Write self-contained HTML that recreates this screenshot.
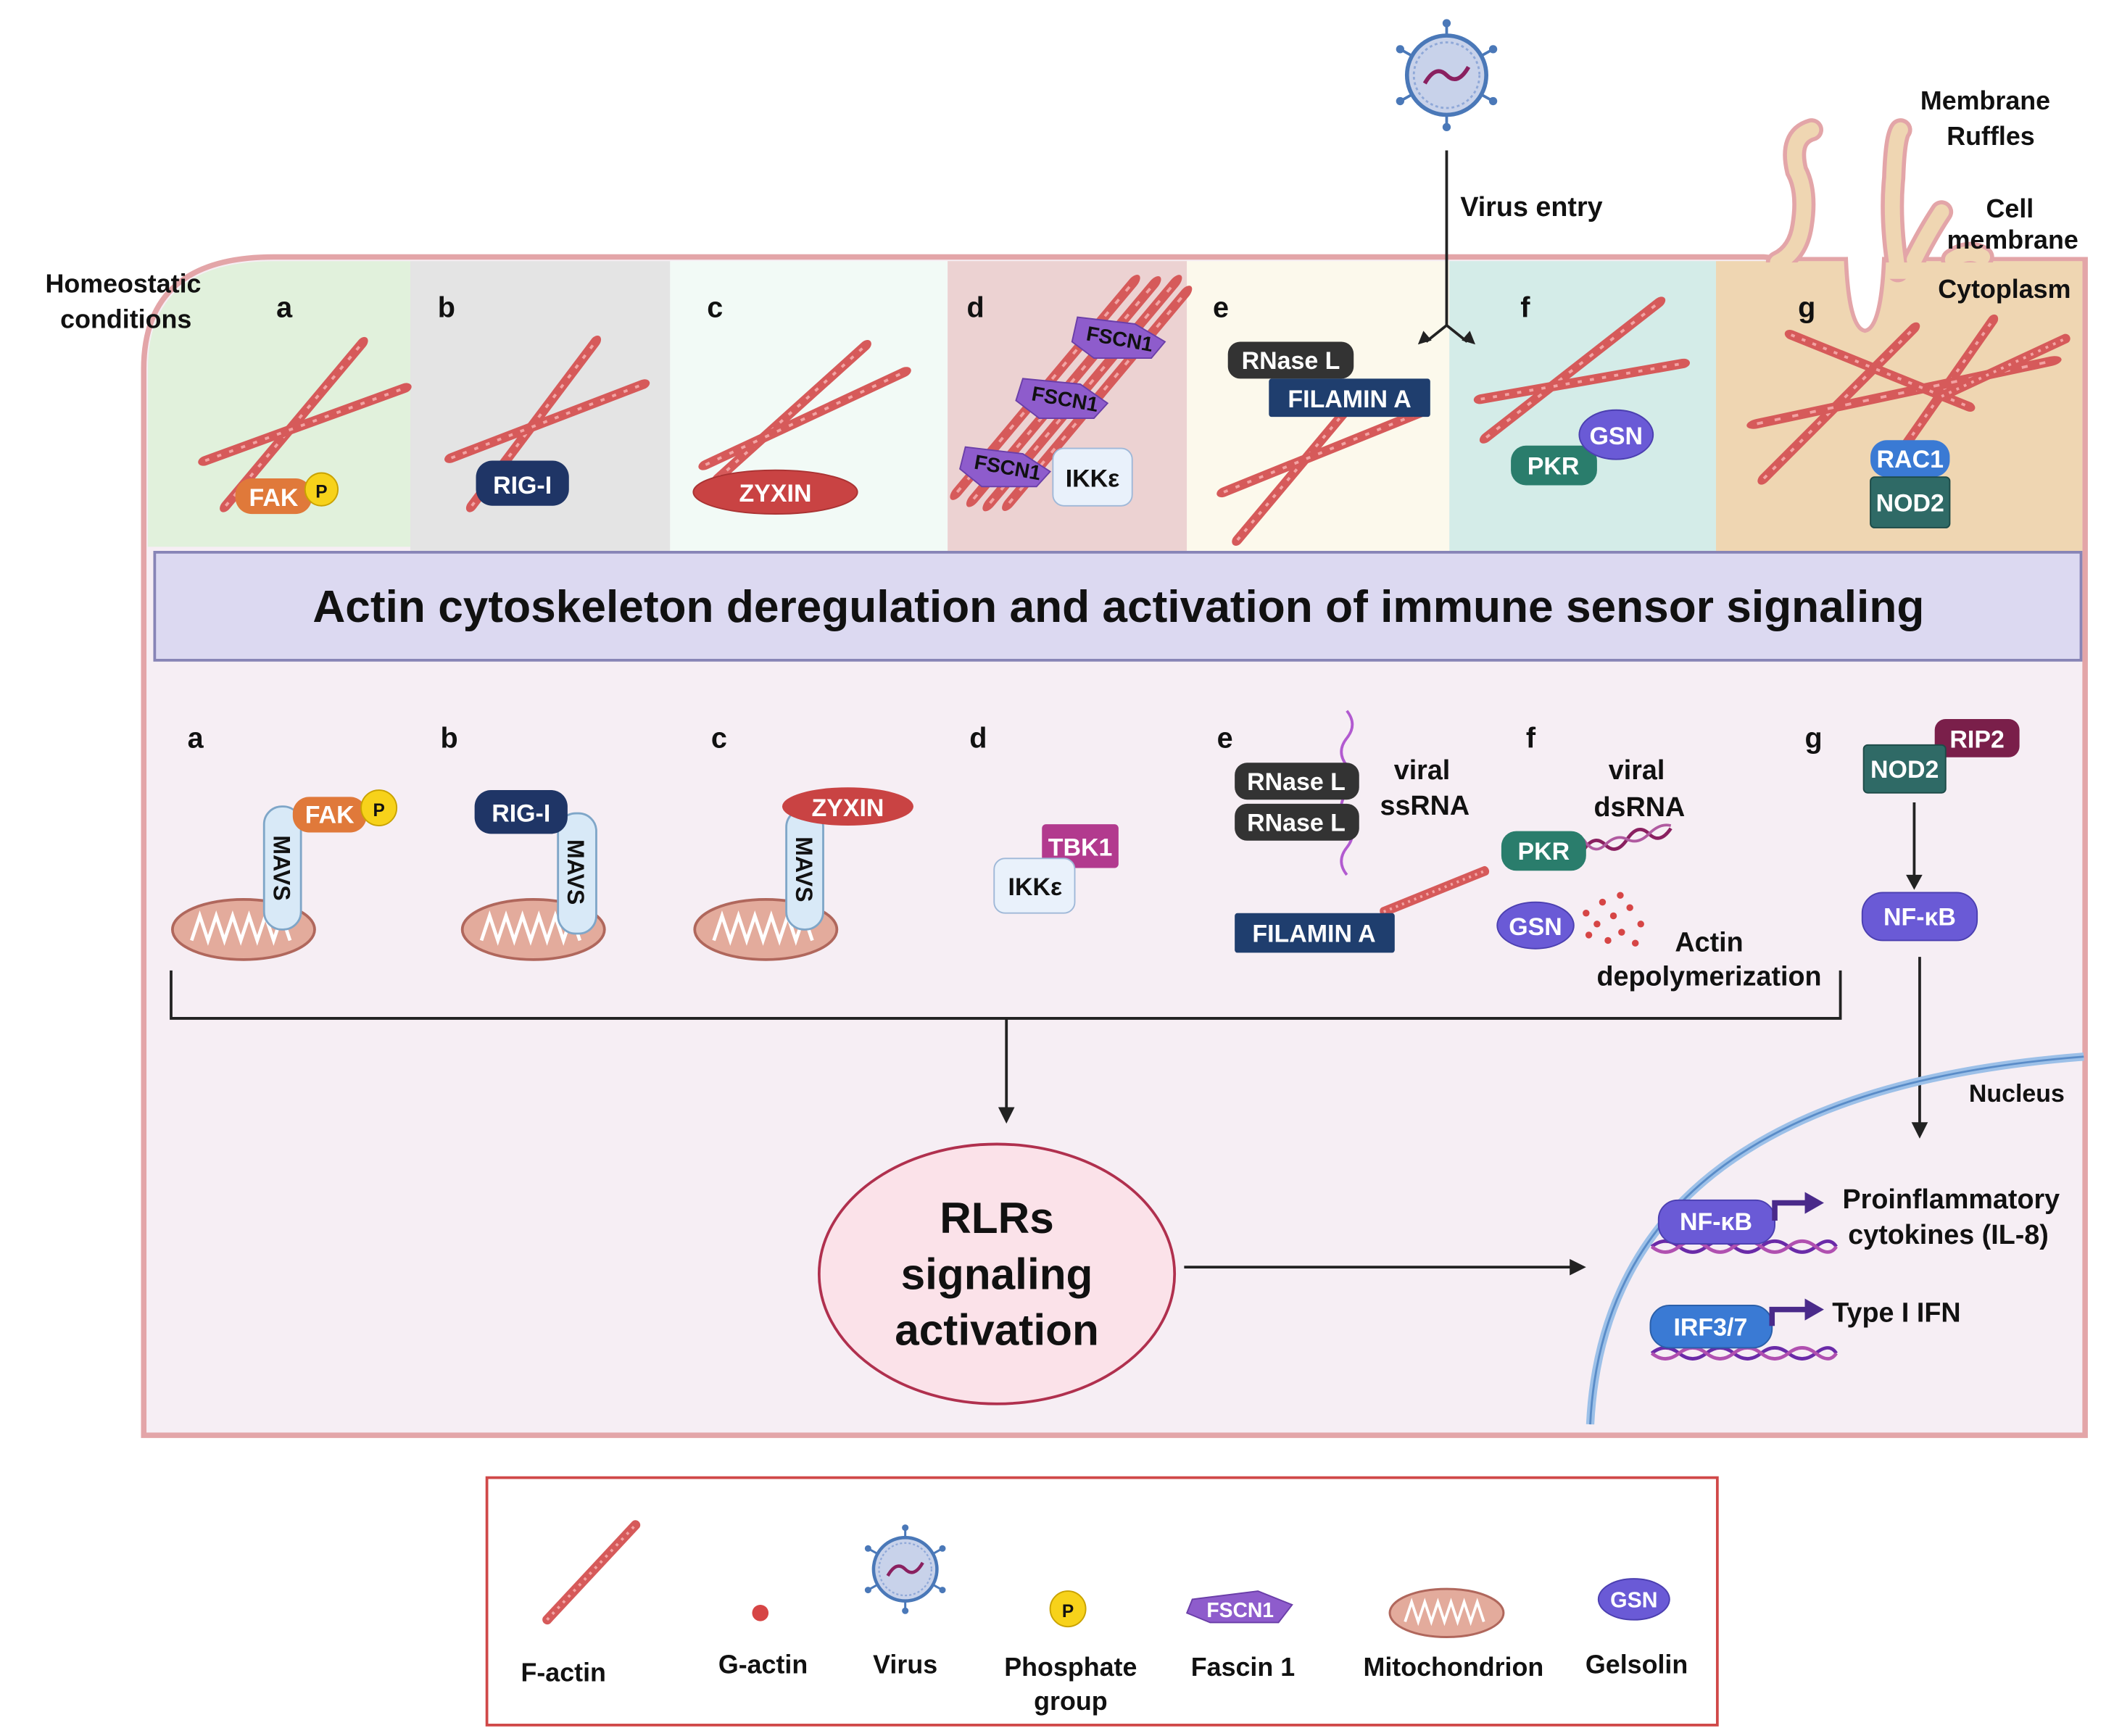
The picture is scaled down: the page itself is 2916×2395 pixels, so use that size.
<!DOCTYPE html>
<html><head><meta charset="utf-8"><style>
html,body{margin:0;padding:0;background:#fff}
svg{display:block}
text{font-family:"Liberation Sans",sans-serif;font-weight:bold;fill:#111}
.fa{stroke:#d65a5a;stroke-width:7;stroke-linecap:round;fill:none}
.fb{stroke:#f2a3a3;stroke-width:2;stroke-dasharray:2 4;fill:none}
.w{fill:#fff}
.to{fill:none;stroke:#e3a5a8;stroke-width:17;stroke-linecap:round}
.ti{fill:none;stroke:#efd6b2;stroke-width:11;stroke-linecap:round}
</style></head><body>
<svg width="2916" height="2395" viewBox="0 0 1546 1270" xmlns="http://www.w3.org/2000/svg">
<defs>
<g id="fil"><line class="fa" x1="0" y1="0" x2="100" y2="0"/><line class="fb" x1="0" y1="0" x2="100" y2="0"/></g>
<g id="mito"><ellipse cx="0" cy="0" rx="52" ry="22" fill="#e3ab9c" stroke="#b0675c" stroke-width="2"/><path d="M-38,8 l6,-18 l6,18 l6,-18 l6,18 l6,-18 l6,18 l6,-18 l6,18 l6,-18 l6,18 l6,-18 l6,18" fill="none" stroke="#fff" stroke-width="2.5"/></g>
<g id="virus"><g stroke="#4a78b8" stroke-width="2"><line x1="0" y1="-38" x2="0" y2="38"/><line x1="-34" y1="-19" x2="34" y2="19"/><line x1="-34" y1="19" x2="34" y2="-19"/></g><g fill="#4a78b8"><circle cx="0" cy="-38" r="3"/><circle cx="0" cy="38" r="3"/><circle cx="-34" cy="-19" r="3"/><circle cx="34" cy="19" r="3"/><circle cx="-34" cy="19" r="3"/><circle cx="34" cy="-19" r="3"/></g><circle r="29" fill="#c8d2ea" stroke="#4a78b8" stroke-width="3"/><circle r="24" fill="none" stroke="#8fa8d8" stroke-width="1.5" stroke-dasharray="2 2"/><path d="M-16,6 q8,-14 16,-6 t16,-6" stroke="#8a2060" stroke-width="3" fill="none"/></g>
</defs>
<!-- cell body -->
<path d="M105,1050 L105,270 Q105,188 200,188 L1290,188 L1310,190 L1525,190 L1525,1050 Z" fill="#f6eef4" stroke="#e3a5a8" stroke-width="4"/>
<!-- panels -->
<path d="M108,400 L108,270 Q108,191 200,191 L300,191 L300,400Z" fill="#e1f1dc"/>
<rect x="300" y="191" width="190" height="212" fill="#e4e4e4"/>
<rect x="490" y="191" width="203" height="212" fill="#f2faf6"/>
<rect x="693" y="191" width="175" height="212" fill="#ecd2d2"/>
<rect x="868" y="191" width="192" height="212" fill="#fcf9ec"/>
<rect x="1060" y="191" width="195" height="212" fill="#d4ece8"/>
<rect x="1255" y="191" width="268" height="212" fill="#efd6b2"/>
<!-- ruffles -->
<path class="to" d="M1300,192 Q1315,185 1318,165 Q1322,140 1314,125 Q1308,100 1325,95"/>
<path class="to" d="M1388,198 Q1382,160 1385,130 Q1386,100 1390,95"/>
<path class="to" d="M1400,190 Q1410,170 1420,155"/>
<path class="to" d="M1428,190 Q1440,182 1450,188"/>
<path class="ti" d="M1300,192 Q1315,185 1318,165 Q1322,140 1314,125 Q1308,100 1325,95"/>
<path class="ti" d="M1388,198 Q1382,160 1385,130 Q1386,100 1390,95"/>
<path class="ti" d="M1400,190 Q1410,170 1420,155"/>
<path class="ti" d="M1428,190 Q1440,182 1450,188"/>
<rect x="1290" y="192" width="233" height="12" fill="#efd6b2"/>
<path d="M1350,188 Q1352,240 1364,242 Q1376,240 1378,188" fill="#fff" stroke="#e3a5a8" stroke-width="3"/>
<!-- panel labels -->
<g font-size="21"><text x="202" y="232">a</text><text x="320" y="232">b</text><text x="517" y="232">c</text><text x="707" y="232">d</text><text x="887" y="232">e</text><text x="1112" y="232">f</text><text x="1315" y="232">g</text></g>
<g font-size="19" text-anchor="middle"><text x="90" y="214">Homeostatic</text><text x="92" y="240">conditions</text>
<text x="1452" y="80">Membrane</text><text x="1456" y="106">Ruffles</text><text x="1470" y="159">Cell</text><text x="1472" y="182">membrane</text><text x="1466" y="218">Cytoplasm</text></g>
<!-- virus -->
<use href="#virus" x="1058" y="55"/>
<line x1="1058" y1="110" x2="1058" y2="238" stroke="#222" stroke-width="2"/>
<path d="M1058,238 L1043,250 M1058,238 L1073,250" stroke="#222" stroke-width="2" fill="none"/>
<path d="M1037,252 l4,-10 l6,7z M1079,252 l-4,-10 l-6,7z" fill="#222"/>
<text x="1068" y="158" font-size="20">Virus entry</text>
<!-- a -->
<use href="#fil" transform="translate(165,370) rotate(-50) scale(1.55,1)"/>
<use href="#fil" transform="translate(150,337) rotate(-20) scale(1.55,1)"/>
<rect x="172" y="350" width="56" height="26" rx="12" fill="#e0793a"/><text x="200" y="370" font-size="18" class="w" text-anchor="middle">FAK</text>
<circle cx="235" cy="358" r="12" fill="#f7d21a" stroke="#c9a200"/><text x="235" y="364" font-size="13" text-anchor="middle">P</text>
<!-- b -->
<use href="#fil" transform="translate(345,370) rotate(-53) scale(1.5,1)"/>
<use href="#fil" transform="translate(330,335) rotate(-21) scale(1.5,1)"/>
<rect x="348" y="337" width="68" height="33" rx="12" fill="#1f3566"/><text x="382" y="361" font-size="18" class="w" text-anchor="middle">RIG-I</text>
<!-- c -->
<use href="#fil" transform="translate(525,350) rotate(-42) scale(1.45,1)"/>
<use href="#fil" transform="translate(516,340) rotate(-25) scale(1.6,1)"/>
<ellipse cx="567" cy="360" rx="60" ry="16" fill="#c94343" stroke="#a33"/><text x="567" y="367" font-size="18" class="w" text-anchor="middle">ZYXIN</text>
<!-- d -->
<use href="#fil" transform="translate(700,360) rotate(-50) scale(2,1)"/>
<use href="#fil" transform="translate(712,365) rotate(-50) scale(2.05,1)"/>
<use href="#fil" transform="translate(724,368) rotate(-50) scale(2.1,1)"/>
<use href="#fil" transform="translate(738,368) rotate(-50) scale(2,1)"/>
<g fill="#8e5ccc" stroke="#6a3ea8"><polygon points="788,232 830,237 852,250 842,262 800,262 784,250"/><polygon points="748,277 790,281 810,295 800,306 760,306 743,293"/><polygon points="706,327 748,332 768,345 758,356 718,356 702,343"/></g>
<g font-size="15" class="w" text-anchor="middle"><text x="818" y="253" transform="rotate(10 818 253)">FSCN1</text><text x="778" y="297" transform="rotate(10 778 297)">FSCN1</text><text x="736" y="347" transform="rotate(10 736 347)">FSCN1</text></g>
<rect x="770" y="328" width="58" height="42" rx="8" fill="#e9f1fb" stroke="#9fb8d8"/><text x="799" y="356" font-size="18" text-anchor="middle">IKKε</text>
<!-- e -->
<use href="#fil" transform="translate(905,395) rotate(-50) scale(1.35,1)"/>
<use href="#fil" transform="translate(895,360) rotate(-22) scale(1.55,1)"/>
<rect x="898" y="250" width="92" height="27" rx="9" fill="#333"/><text x="944" y="270" font-size="18" class="w" text-anchor="middle">RNase L</text>
<rect x="928" y="277" width="118" height="28" rx="2" fill="#1f3e6e"/><text x="987" y="298" font-size="18" class="w" text-anchor="middle">FILAMIN A</text>
<!-- f -->
<use href="#fil" transform="translate(1087,320) rotate(-38) scale(1.6,1)"/>
<use href="#fil" transform="translate(1083,292) rotate(-10) scale(1.5,1)"/>
<rect x="1105" y="326" width="63" height="29" rx="11" fill="#2a7d6c"/><text x="1136" y="347" font-size="18" class="w" text-anchor="middle">PKR</text>
<ellipse cx="1182" cy="318" rx="27" ry="18" fill="#6a5ad6" stroke="#4b3fb0"/><text x="1182" y="325" font-size="18" class="w" text-anchor="middle">GSN</text>
<!-- g -->
<use href="#fil" transform="translate(1290,350) rotate(-45) scale(1.55,1)"/>
<use href="#fil" transform="translate(1380,345) rotate(-55) scale(1.35,1)"/>
<use href="#fil" transform="translate(1285,310) rotate(-12) scale(2.2,1)"/>
<use href="#fil" transform="translate(1310,245) rotate(22) scale(1.4,1)"/>
<use href="#fil" transform="translate(1420,290) rotate(-25) scale(1,1)"/>
<rect x="1368" y="322" width="58" height="27" rx="12" fill="#3a7ad4"/><text x="1397" y="342" font-size="18" class="w" text-anchor="middle">RAC1</text>
<rect x="1368" y="349" width="58" height="37" rx="3" fill="#2f6a66" stroke="#1d4a47"/><text x="1397" y="374" font-size="18" class="w" text-anchor="middle">NOD2</text>
<!-- banner -->
<rect x="113" y="404" width="1409" height="79" fill="#dcd9f1" stroke="#8784b6" stroke-width="2"/>
<text x="818" y="455" font-size="33" text-anchor="middle">Actin cytoskeleton deregulation and activation of immune sensor signaling</text>
<!-- lower labels -->
<g font-size="21"><text x="137" y="547">a</text><text x="322" y="547">b</text><text x="520" y="547">c</text><text x="709" y="547">d</text><text x="890" y="547">e</text><text x="1116" y="547">f</text><text x="1320" y="547">g</text></g>
<!-- mitos -->
<use href="#mito" x="178" y="680"/><use href="#mito" x="390" y="680"/><use href="#mito" x="560" y="680"/>
<g fill="#d8e9f7" stroke="#7fa6c8" stroke-width="1.5"><rect x="193" y="590" width="27" height="90" rx="13"/><rect x="408" y="595" width="28" height="88" rx="13"/><rect x="575" y="592" width="27" height="88" rx="13"/></g>
<g font-size="17" text-anchor="middle"><text transform="translate(200,635) rotate(90)">MAVS</text><text transform="translate(415,638) rotate(90)">MAVS</text><text transform="translate(582,636) rotate(90)">MAVS</text></g>
<rect x="214" y="583" width="54" height="26" rx="12" fill="#e0793a"/><text x="241" y="602" font-size="18" class="w" text-anchor="middle">FAK</text>
<circle cx="277" cy="591" r="13" fill="#f7d21a" stroke="#c9a200"/><text x="277" y="597" font-size="13" text-anchor="middle">P</text>
<rect x="347" y="578" width="68" height="32" rx="12" fill="#1f3566"/><text x="381" y="601" font-size="18" class="w" text-anchor="middle">RIG-I</text>
<ellipse cx="620" cy="590" rx="48" ry="14" fill="#c94343"/><text x="620" y="597" font-size="18" class="w" text-anchor="middle">ZYXIN</text>
<rect x="762" y="603" width="56" height="32" rx="3" fill="#b23a8e"/><text x="790" y="626" font-size="18" class="w" text-anchor="middle">TBK1</text>
<rect x="727" y="628" width="59" height="40" rx="8" fill="#e9f1fb" stroke="#9fb8d8"/><text x="757" y="655" font-size="18" text-anchor="middle">IKKε</text>
<!-- e lower -->
<path d="M985,520 q8,10 0,20 t0,20 t0,20 t0,20 t0,20 t0,20" fill="none" stroke="#b25ad0" stroke-width="2"/>
<rect x="903" y="558" width="91" height="27" rx="9" fill="#333"/><text x="948" y="578" font-size="18" class="w" text-anchor="middle">RNase L</text>
<rect x="903" y="588" width="91" height="27" rx="9" fill="#333"/><text x="948" y="608" font-size="18" class="w" text-anchor="middle">RNase L</text>
<text x="1040" y="570" font-size="20" text-anchor="middle">viral</text><text x="1042" y="596" font-size="20" text-anchor="middle">ssRNA</text>
<use href="#fil" transform="translate(1012,667) rotate(-22) scale(0.8,1)"/>
<rect x="903" y="668" width="117" height="29" rx="2" fill="#1f3e6e"/><text x="961" y="689" font-size="18" class="w" text-anchor="middle">FILAMIN A</text>
<!-- f lower -->
<text x="1197" y="570" font-size="20" text-anchor="middle">viral</text><text x="1199" y="597" font-size="20" text-anchor="middle">dsRNA</text>
<path d="M1158,622 q8,-12 16,-4 t16,-4 t16,-4 t16,-4" fill="none" stroke="#8a2060" stroke-width="2.5"/>
<path d="M1158,614 q8,12 16,4 t16,-4 t16,-4 t16,-6" fill="none" stroke="#b05aa0" stroke-width="2"/>
<rect x="1098" y="608" width="62" height="29" rx="11" fill="#2a7d6c"/><text x="1129" y="629" font-size="18" class="w" text-anchor="middle">PKR</text>
<g fill="#d64545"><circle cx="1160" cy="668" r="2.5"/><circle cx="1172" cy="660" r="2.5"/><circle cx="1168" cy="676" r="2.5"/><circle cx="1180" cy="670" r="2.5"/><circle cx="1186" cy="682" r="2.5"/><circle cx="1192" cy="664" r="2.5"/><circle cx="1176" cy="688" r="2.5"/><circle cx="1196" cy="690" r="2.5"/><circle cx="1162" cy="684" r="2.5"/><circle cx="1185" cy="655" r="2.5"/><circle cx="1200" cy="676" r="2.5"/></g>
<ellipse cx="1123" cy="677" rx="28" ry="17" fill="#6a5ad6" stroke="#4b3fb0"/><text x="1123" y="684" font-size="18" class="w" text-anchor="middle">GSN</text>
<text x="1250" y="696" font-size="20" text-anchor="middle">Actin</text><text x="1250" y="721" font-size="20" text-anchor="middle">depolymerization</text>
<!-- g lower -->
<rect x="1415" y="526" width="62" height="28" rx="8" fill="#7a1f4a"/><text x="1446" y="547" font-size="18" class="w" text-anchor="middle">RIP2</text>
<rect x="1363" y="545" width="60" height="35" rx="3" fill="#2f6a66" stroke="#1d4a47"/><text x="1393" y="569" font-size="18" class="w" text-anchor="middle">NOD2</text>
<line x1="1400" y1="587" x2="1400" y2="642" stroke="#222" stroke-width="2"/><path d="M1394,640 l6,11 l6,-11z" fill="#222"/>
<rect x="1362" y="653" width="84" height="35" rx="15" fill="#6a5ad6" stroke="#4b3fb0"/><text x="1404" y="677" font-size="18" class="w" text-anchor="middle">NF-κB</text>
<line x1="1404" y1="700" x2="1404" y2="823" stroke="#222" stroke-width="2"/><path d="M1398,821 l6,12 l6,-12z" fill="#222"/>
<!-- bracket -->
<path d="M125,710 L125,745 L1346,745 L1346,710" fill="none" stroke="#222" stroke-width="2"/>
<line x1="736" y1="745" x2="736" y2="812" stroke="#222" stroke-width="2"/><path d="M730,810 l6,12 l6,-12z" fill="#222"/>
<!-- RLRs -->
<ellipse cx="729" cy="932" rx="130" ry="95" fill="#fbe2e9" stroke="#b0304e" stroke-width="2"/>
<g font-size="32" text-anchor="middle"><text x="729" y="902">RLRs</text><text x="729" y="943">signaling</text><text x="729" y="984">activation</text></g>
<line x1="866" y1="927" x2="1150" y2="927" stroke="#222" stroke-width="2"/><path d="M1148,921 l12,6 l-12,6z" fill="#222"/>
<!-- nucleus -->
<path d="M1163,1042 Q1175,800 1524,773" fill="none" stroke="#9cc0e8" stroke-width="6"/>
<path d="M1163,1042 Q1175,800 1524,773" fill="none" stroke="#5a8cc8" stroke-width="1.5"/>
<text x="1475" y="806" font-size="18" text-anchor="middle">Nucleus</text>
<g fill="none" stroke-width="2.5"><path d="M1208,912 q10,-8 20,0 t20,0 t20,0 t20,0 t20,0 t20,0 t15,0" stroke="#6a2aa8"/><path d="M1208,912 q10,8 20,0 t20,0 t20,0 t20,0 t20,0 t20,0 t15,0" stroke="#b050b0"/>
<path d="M1208,990 q10,-8 20,0 t20,0 t20,0 t20,0 t20,0 t20,0 t15,0" stroke="#6a2aa8"/><path d="M1208,990 q10,8 20,0 t20,0 t20,0 t20,0 t20,0 t20,0 t15,0" stroke="#b050b0"/></g>
<rect x="1213" y="878" width="85" height="32" rx="14" fill="#6a5ad6" stroke="#4b3fb0"/><text x="1255" y="900" font-size="18" class="w" text-anchor="middle">NF-κB</text>
<rect x="1207" y="955" width="89" height="31" rx="14" fill="#3a7ad4" stroke="#2a5ea8"/><text x="1251" y="977" font-size="18" class="w" text-anchor="middle">IRF3/7</text>
<g stroke="#4a2a8a" stroke-width="4" fill="none"><path d="M1298,893 L1298,880 L1322,880"/><path d="M1296,970 L1296,958 L1322,958"/></g>
<path d="M1320,872 l14,8 l-14,8z M1320,950 l14,8 l-14,8z" fill="#4a2a8a"/>
<g font-size="20" text-anchor="middle"><text x="1427" y="884">Proinflammatory</text><text x="1425" y="910">cytokines (IL-8)</text></g>
<text x="1340" y="967" font-size="20">Type I IFN</text>
<!-- legend -->
<rect x="356" y="1081" width="900" height="181" fill="#fff" stroke="#d04848" stroke-width="2"/>
<use href="#fil" transform="translate(400,1185) rotate(-47) scale(0.95,1)"/>
<circle cx="556" cy="1180" r="6" fill="#d64545"/>
<use href="#virus" transform="translate(662,1148) scale(0.8)"/>
<circle cx="781" cy="1177" r="13" fill="#f7d21a" stroke="#c9a200"/><text x="781" y="1183" font-size="13" text-anchor="middle">P</text>
<polygon points="872,1170 920,1164 945,1174 935,1187 885,1187 868,1180" fill="#8e5ccc" stroke="#6a3ea8"/><text x="907" y="1183" font-size="15" class="w" text-anchor="middle">FSCN1</text>
<use href="#mito" transform="translate(1058,1180) scale(0.8)"/>
<ellipse cx="1195" cy="1170" rx="26" ry="15" fill="#6a5ad6" stroke="#4b3fb0"/><text x="1195" y="1176" font-size="16" class="w" text-anchor="middle">GSN</text>
<g font-size="19" text-anchor="middle"><text x="412" y="1230">F-actin</text><text x="558" y="1224">G-actin</text><text x="662" y="1224">Virus</text><text x="783" y="1226">Phosphate</text><text x="783" y="1251">group</text><text x="909" y="1226">Fascin 1</text><text x="1063" y="1226">Mitochondrion</text><text x="1197" y="1224">Gelsolin</text></g>
</svg>
</body></html>
